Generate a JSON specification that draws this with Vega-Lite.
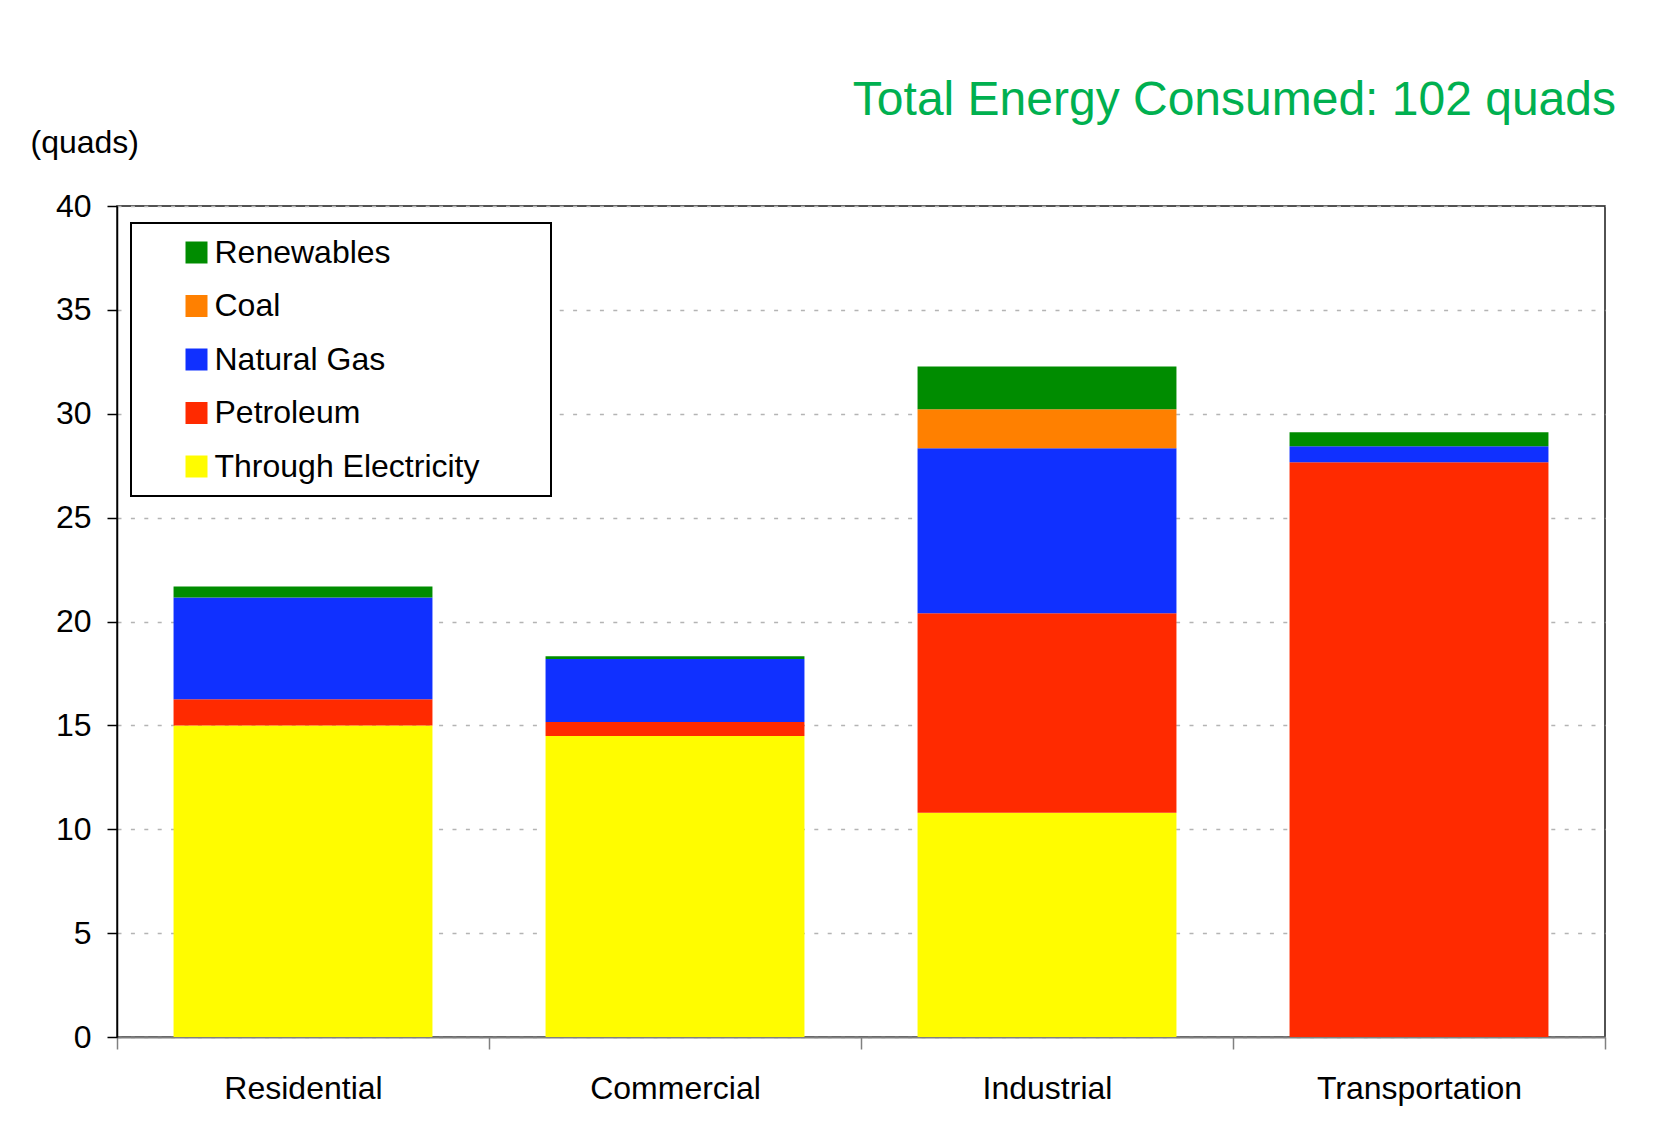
{
  "$schema": "https://vega.github.io/schema/vega-lite/v6.json",
  "autosize": {"type": "none"},
  "width": 1488,
  "height": 831,
  "padding": {"left": 117, "top": 206, "right": 65, "bottom": 93},
  "background": "white",
  "title": {
    "text": "Total Energy Consumed: 102 quads",
    "anchor": "end",
    "frame": "group",
    "fontSize": 48,
    "font": "Liberation Sans",
    "fontWeight": "normal",
    "color": "#00B050",
    "dx": 11,
    "offset": 1
  },
  "data": {
    "values": [
      {"sector": "Residential", "source": "Through Electricity", "quads": 15.0},
      {"sector": "Residential", "source": "Petroleum", "quads": 1.26},
      {"sector": "Residential", "source": "Natural Gas", "quads": 4.89},
      {"sector": "Residential", "source": "Renewables", "quads": 0.54},
      {"sector": "Commercial", "source": "Through Electricity", "quads": 14.49},
      {"sector": "Commercial", "source": "Petroleum", "quads": 0.67},
      {"sector": "Commercial", "source": "Natural Gas", "quads": 3.03},
      {"sector": "Commercial", "source": "Renewables", "quads": 0.14},
      {"sector": "Industrial", "source": "Through Electricity", "quads": 10.8},
      {"sector": "Industrial", "source": "Petroleum", "quads": 9.6},
      {"sector": "Industrial", "source": "Natural Gas", "quads": 7.94},
      {"sector": "Industrial", "source": "Coal", "quads": 1.88},
      {"sector": "Industrial", "source": "Renewables", "quads": 2.05},
      {"sector": "Transportation", "source": "Petroleum", "quads": 27.67},
      {"sector": "Transportation", "source": "Natural Gas", "quads": 0.77},
      {"sector": "Transportation", "source": "Renewables", "quads": 0.67}
    ]
  },
  "transform": [
    {"calculate": "indexof(['Through Electricity','Petroleum','Natural Gas','Coal','Renewables'], datum.source)", "as": "stackOrder"}
  ],
  "mark": {"type": "bar", "width": {"band": 0.696}},
  "encoding": {
    "x": {
      "field": "sector",
      "type": "nominal",
      "sort": ["Residential", "Commercial", "Industrial", "Transportation"],
      "scale": {"paddingInner": 0, "paddingOuter": 0},
      "axis": {
        "title": null,
        "labelAngle": 0,
        "labelFontSize": 32,
        "labelFont": "Liberation Sans",
        "labelColor": "#000000",
        "labelPadding": 24,
        "labelLimit": 500,
        "tickBand": "extent",
        "tickColor": "#808080",
        "tickSize": 12,
        "tickWidth": 1.5,
        "domainColor": "#808080",
        "domainWidth": 2,
        "grid": false
      }
    },
    "y": {
      "field": "quads",
      "type": "quantitative",
      "stack": "zero",
      "scale": {"domain": [0, 40], "nice": false},
      "axis": {
        "values": [0, 5, 10, 15, 20, 25, 30, 35, 40],
        "title": "(quads)",
        "titleAngle": 0,
        "titleAlign": "left",
        "titleBaseline": "middle",
        "titleX": -87,
        "titleY": -64,
        "titleFontSize": 32,
        "titleFont": "Liberation Sans",
        "titleFontWeight": "normal",
        "titleColor": "#000000",
        "labelFontSize": 32,
        "labelFont": "Liberation Sans",
        "labelColor": "#000000",
        "labelPadding": 16,
        "tickColor": "#000000",
        "tickSize": 10,
        "tickWidth": 1.5,
        "domainColor": "#000000",
        "domainWidth": 1.5,
        "grid": true,
        "gridColor": "#b4b4b4",
        "gridWidth": 1.7,
        "gridDash": [4, 9.4]
      }
    },
    "color": {
      "field": "source",
      "type": "nominal",
      "scale": {
        "domain": ["Renewables", "Coal", "Natural Gas", "Petroleum", "Through Electricity"],
        "range": ["#008C00", "#FF8000", "#1030FF", "#FF2A00", "#FFFC00"]
      },
      "legend": {
        "title": "\u00a0",
        "titleOrient": "right",
        "titleFontSize": 2,
        "titlePadding": 58,
        "orient": "none",
        "legendX": 14,
        "legendY": 17,
        "padding": 13.5,
        "strokeColor": "#000000",
        "fillColor": "#ffffff",
        "symbolType": "square",
        "symbolSize": 484,
        "symbolStrokeWidth": 0,
        "symbolOpacity": 1,
        "symbolOffset": 36,
        "labelFontSize": 32,
        "labelFont": "Liberation Sans",
        "labelColor": "#000000",
        "labelOffset": 2,
        "labelLimit": 500,
        "rowPadding": 21.5,
        "encode": {"legend": {"update": {"strokeWidth": {"value": 2}}}}
      }
    },
    "order": {"field": "stackOrder", "type": "quantitative", "sort": "ascending"}
  },
  "config": {
    "view": {"stroke": "#1a1a1a", "strokeWidth": 1.5},
    "font": "Liberation Sans"
  }
}
